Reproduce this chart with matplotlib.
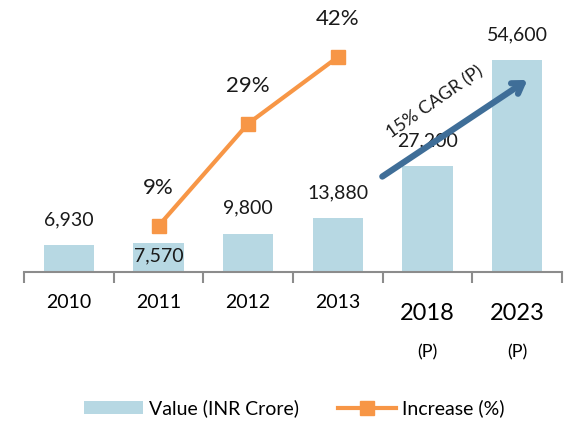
import matplotlib.pyplot as plt
import numpy as np

plt.rcParams['font.family'] = ['Lato', 'DejaVu Sans']

years = ["2010", "2011", "2012", "2013", "2018", "2023"]
values = [6930, 7570, 9800, 13880, 27200, 54600]
value_labels = ["6,930", "7,570", "9,800", "13,880", "27,200", "54,600"]
growth_years = ["2011", "2012", "2013"]
growth = [9, 29, 42]

bar_color = "#b7d8e3"
line_color = "#f79646"
arrow_color = "#3f6e98"

fig = plt.figure(figsize=(5.66, 4.21), dpi=100)
ax = fig.add_axes([0.0424, 0.354, 0.9506, 0.598])
x = np.arange(len(years))

bars = ax.bar(x, values, width=0.56, color=bar_color, label="Value (INR Crore)", zorder=1)
ax.set_xlim(-0.5, len(years) - 0.5)
ax.set_ylim(0, 64900)

# value labels
for i, (v, lab) in enumerate(zip(values, value_labels)):
    if years[i] == "2011":
        ax.text(i, v - 3300, lab, ha='center', va='center', fontsize=14, color='#1a1a1a', zorder=5)
    else:
        ax.text(i, v + 6600, lab, ha='center', va='center', fontsize=14, color='#1a1a1a')

# secondary axis for growth line
ax2 = ax.twinx()
ax2.set_ylim(0, 49.2)
gx = [years.index(y) for y in growth_years]
line, = ax2.plot(gx, growth, color=line_color, lw=3, marker='s', markersize=10,
                 label="Increase (%)", zorder=3)
for xi, g in zip(gx, growth):
    ax2.text(xi, g + 7.4, f"{g}%", ha='center', va='center', fontsize=16, color='#1a1a1a')

# CAGR arrow
ax.annotate("", xy=(5.14, 49900), xytext=(3.47, 24200),
            arrowprops=dict(arrowstyle="->,head_length=0.7,head_width=0.45",
                            color=arrow_color, lw=4.5))
ax.text(4.08, 43800, "15% CAGR (P)", rotation=35, ha='center', va='center',
        fontsize=13, color='#1a1a1a', rotation_mode='anchor')

# axes styling
for a in (ax, ax2):
    for s in ['top', 'right', 'left']:
        a.spines[s].set_visible(False)
    a.set_yticks([])
ax2.spines['bottom'].set_visible(False)
ax.spines['bottom'].set_color('#8c8c8c')
ax.spines['bottom'].set_linewidth(1.5)

ax.set_xticks(x)
ax.set_xticklabels(years)
ax.tick_params(axis='x', which='major', length=0, pad=16, labelsize=14)
ax.set_xticks(np.arange(-0.5, len(years)), minor=True)
ax.tick_params(axis='x', which='minor', length=8, width=1.5, color='#8c8c8c', direction='out')
for lbl in ax.get_xticklabels():
    if lbl.get_text() in ("2018", "2023"):
        lbl.set_fontsize(17)
        lbl.set_y(-0.035)
for yr in ("2018", "2023"):
    ax.text(years.index(yr), -0.32, "(P)", transform=ax.get_xaxis_transform(),
            ha='center', va='center', fontsize=13)

fig.legend(handles=[bars, line], labels=["Value (INR Crore)", "Increase (%)"],
           loc='center', bbox_to_anchor=(0.52, 0.03), ncol=2, frameon=False,
           fontsize=14, handlelength=3.0, columnspacing=2.0, handletextpad=0.3)

fig.savefig("out.png", dpi=100)
